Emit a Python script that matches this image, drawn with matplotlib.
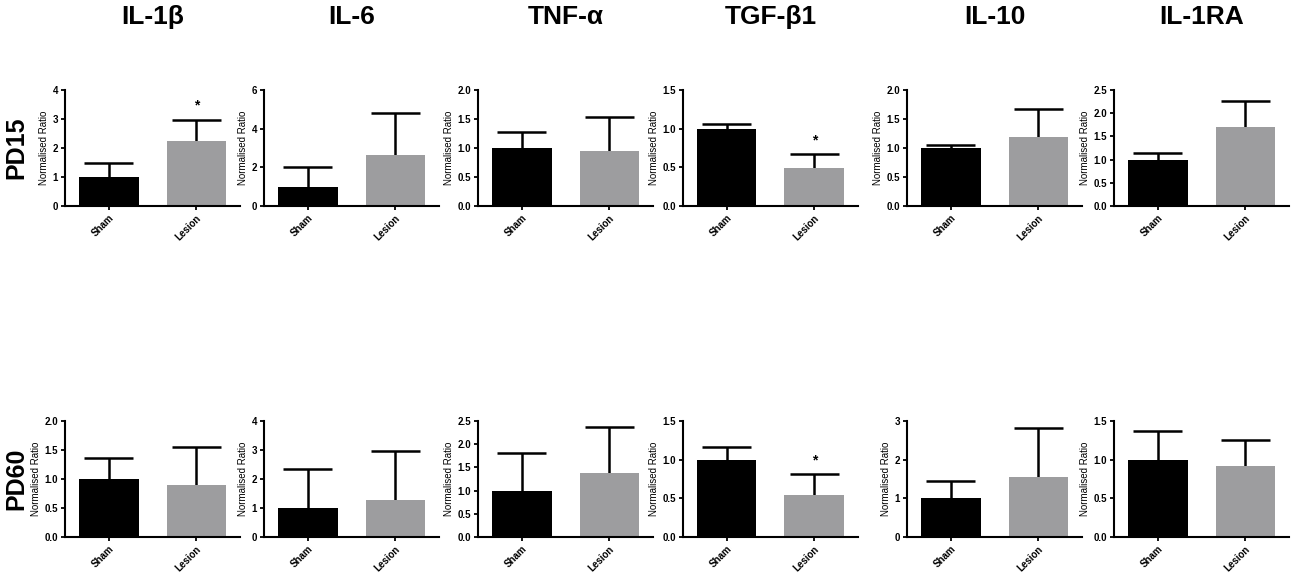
import numpy as np
import matplotlib.pyplot as plt

plt.rcParams['font.family'] = ['Liberation Sans', 'DejaVu Sans']
plt.rcParams['font.weight'] = 'bold'

cytokines = ["IL-1β", "IL-6", "TNF-α", "TGF-β1", "IL-10", "IL-1RA"]
groups = ["Sham", "Lesion"]
rows = ["PD15", "PD60"]

# mean and upper error end (mean + SEM)
pd15_mean = [[1.0, 2.25], [1.0, 2.62], [1.0, 0.94], [1.0, 0.49], [1.0, 1.19], [1.0, 1.70]]
pd15_top = [[1.47, 2.98], [2.02, 4.82], [1.27, 1.54], [1.06, 0.67], [1.05, 1.67], [1.15, 2.27]]
pd60_mean = [[1.0, 0.90], [1.0, 1.27], [1.0, 1.37], [1.0, 0.54], [1.0, 1.56], [1.0, 0.92]]
pd60_top = [[1.37, 1.55], [2.33, 2.97], [1.82, 2.36], [1.17, 0.81], [1.45, 2.82], [1.37, 1.26]]

pd15_ymax = [4, 6, 2.0, 1.5, 2.0, 2.5]
pd15_step = [1, 2, 0.5, 0.5, 0.5, 0.5]
pd60_ymax = [2.0, 4, 2.5, 1.5, 3, 1.5]
pd60_step = [0.5, 1, 0.5, 0.5, 1, 0.5]

# significant differences (lesion vs sham)
pd15_star = [True, False, False, True, False, False]
pd60_star = [False, False, False, True, False, False]

colors = ["#000000", "#9d9d9f"]

W, H = 1300, 573
fig = plt.figure(figsize=(W / 100, H / 100), dpi=100)

lefts = [65, 264, 478, 683, 907, 1114]
width = 175
row_box = [(90, 206), (421, 537)]

data = [(pd15_mean, pd15_top, pd15_ymax, pd15_step, pd15_star),
        (pd60_mean, pd60_top, pd60_ymax, pd60_step, pd60_star)]

for r, (means, tops, ymaxs, steps, stars) in enumerate(data):
    t, b = row_box[r]
    for c in range(6):
        ax = fig.add_axes([lefts[c] / W, 1 - b / H, width / W, (b - t) / H])
        x = np.arange(2)
        m = np.array(means[c])
        top = np.array(tops[c])
        ax.bar(x, m, width=0.68, color=colors, zorder=2)
        # upward-only error bars
        ax.vlines(x, m, top, color='black', lw=1.8, zorder=1)
        ax.hlines(top, x - 0.28, x + 0.28, color='black', lw=1.8, zorder=1)
        if stars[c]:
            ax.text(1, tops[c][1] + ymaxs[c] * 0.06, "*", ha='center', va='bottom',
                    fontsize=10)
        ax.set_xlim(-0.5, 1.5)
        ax.set_ylim(0, ymaxs[c])
        ticks = np.arange(0, ymaxs[c] + 1e-9, steps[c])
        ax.set_yticks(ticks)
        if steps[c] < 1:
            ax.set_yticklabels([f"{v:.1f}" for v in ticks])
        else:
            ax.set_yticklabels([f"{v:.0f}" for v in ticks])
        ax.set_xticks(x)
        ax.set_xticklabels(groups, rotation=45, ha='right', rotation_mode='anchor')
        ax.tick_params(axis='both', labelsize=7, width=1.3, length=3, pad=2)
        ax.set_ylabel("Normalised Ratio", fontsize=7, labelpad=2.5)
        for s in ['top', 'right']:
            ax.spines[s].set_visible(False)
        for s in ['left', 'bottom']:
            ax.spines[s].set_linewidth(1.5)
        if r == 0:
            fig.text((lefts[c] + width / 2) / W, 1 - 17 / H, cytokines[c],
                     ha='center', va='center', fontsize=19, fontweight='bold')
    fig.text(16 / W, 1 - (t + b) / 2 / H, rows[r], rotation=90, ha='center',
             va='center', fontsize=18, fontweight='bold')

fig.savefig("out.png", dpi=100)
